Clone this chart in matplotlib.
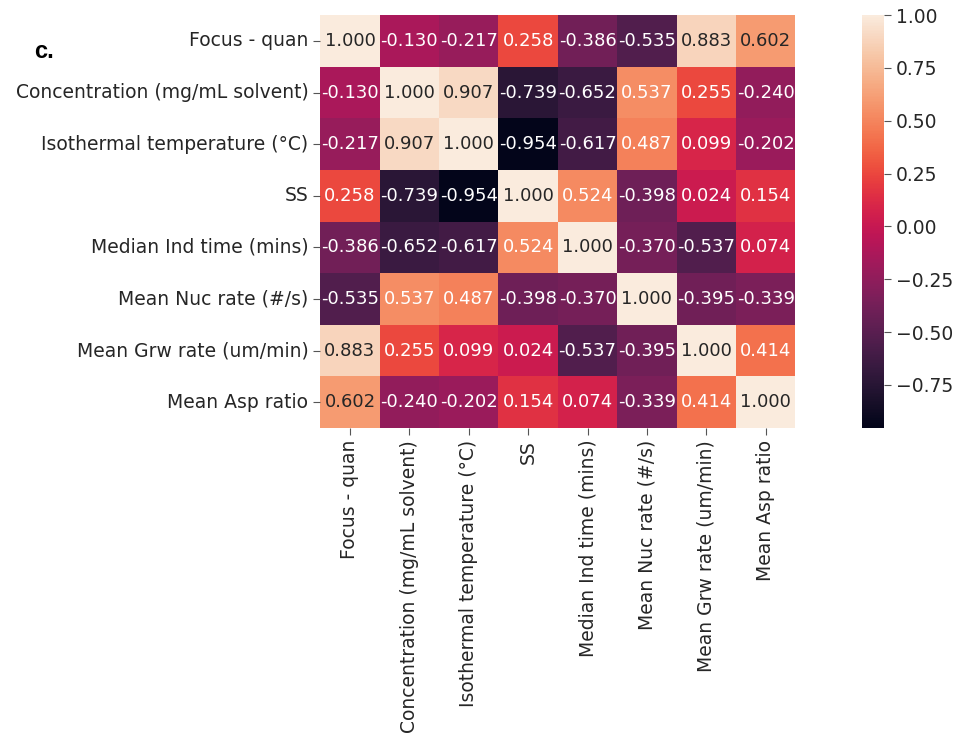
import numpy as np
import pandas as pd
import seaborn as sns
from matplotlib import pyplot as plt

# Nazwy zmiennych
labels = ['Focus - quan', 'Concentration (mg/mL solvent)', 'Isothermal temperature (°C)',
          'SS', 'Median Ind time (mins)', 'Mean Nuc rate (#/s)',
          'Mean Grw rate (um/min)', 'Mean Asp ratio']

# Macierz korelacji (wiersz po wierszu)
row_focus = [1.000, -0.130, -0.217, 0.258, -0.386, -0.535, 0.883, 0.602]
row_conc = [-0.130, 1.000, 0.907, -0.739, -0.652, 0.537, 0.255, -0.240]
row_temp = [-0.217, 0.907, 1.000, -0.954, -0.617, 0.487, 0.099, -0.202]
row_ss = [0.258, -0.739, -0.954, 1.000, 0.524, -0.398, 0.024, 0.154]
row_ind = [-0.386, -0.652, -0.617, 0.524, 1.000, -0.370, -0.537, 0.074]
row_nuc = [-0.535, 0.537, 0.487, -0.398, -0.370, 1.000, -0.395, -0.339]
row_grw = [0.883, 0.255, 0.099, 0.024, -0.537, -0.395, 1.000, 0.414]
row_asp = [0.602, -0.240, -0.202, 0.154, 0.074, -0.339, 0.414, 1.000]

corr = pd.DataFrame([row_focus, row_conc, row_temp, row_ss, row_ind, row_nuc, row_grw, row_asp],
                    index=labels, columns=labels)

fs = 13.5

fig = plt.figure(figsize=(9.56, 7.4), dpi=100)
ax = fig.add_axes([0.335, 0.4216, 0.497, 0.558])
cax = fig.add_axes([0.9017, 0.4216, 0.023, 0.558])

sns.heatmap(corr, annot=True, fmt='.3f', ax=ax, cbar_ax=cax,
            annot_kws={'fontsize': 13})

ax.tick_params(labelsize=fs, colors='#555555', labelcolor='#262626', length=5, width=0.8)
ax.set_xticklabels(labels, rotation=90)
ax.set_yticklabels(labels, rotation=0)

cax.tick_params(labelsize=fs, length=5, width=0.8, colors='#555555', labelcolor='#262626')
cax.set_yticks([-0.75, -0.5, -0.25, 0.0, 0.25, 0.5, 0.75, 1.0])

fig.text(0.036, 0.922, 'c.', fontsize=17, fontweight='bold', family='Liberation Sans')

plt.savefig('out.png', dpi=100)
